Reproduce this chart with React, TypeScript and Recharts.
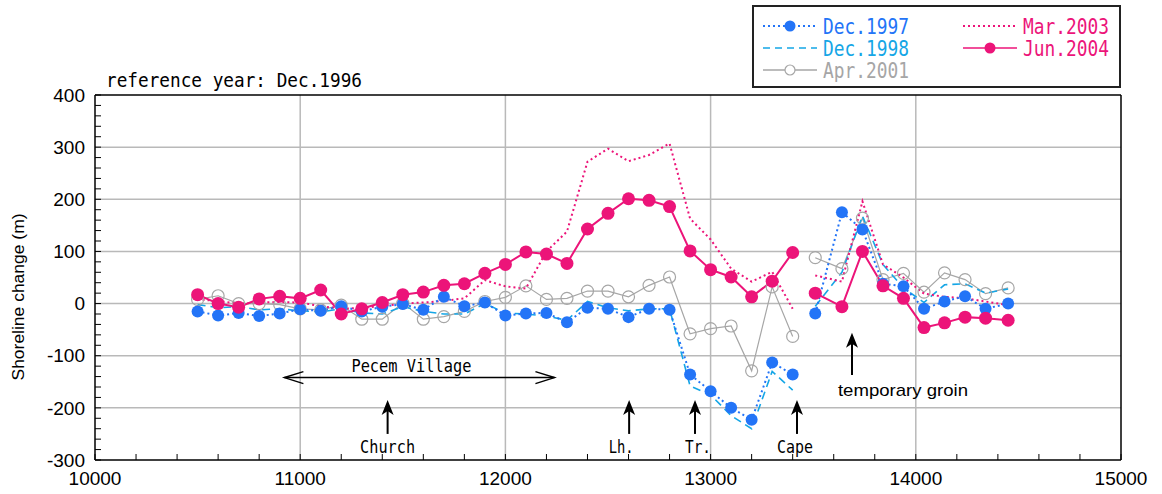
import React from 'react';
import { LineChart, Line, XAxis, YAxis, CartesianGrid, ReferenceLine } from 'recharts';

// distance along the coast (m): west block every 100 m, east block past the gap
const xWest = [
  10500, 10600, 10700, 10800, 10900, 11000, 11100, 11200, 11300, 11400,
  11500, 11600, 11700, 11800, 11900, 12000, 12100, 12200, 12300, 12400,
  12500, 12600, 12700, 12800, 12900, 13000, 13100, 13200, 13300, 13400,
];
const xEast = [13510, 13640, 13740, 13840, 13940, 14040, 14140, 14240, 14340, 14450];
const xGap = 13450;

// shoreline change (m) relative to Dec.1996
const dec1997West = [-15, -23, -18, -24, -19, -11, -14, -5, -15, -6, -1, -12, 13, -5, 2, -23, -19, -18, -36, -8, -10, -26, -10, -12, -136, -168, -200, -223, -113, -136];
const dec1997East = [-19, 175, 142, 38, 33, -10, 4, 14, -10, 0];

const dec1998West = [-2, -8, -6, -12, -10, -14, -16, -10, -18, -20, -6, -15, -20, -20, 0, -18, -20, -24, -32, 4, -8, -14, -10, -10, -158, -175, -215, -240, -130, -166];
const dec1998East = [-5, 60, 168, 75, 30, 2, 36, 38, 20, 28];

const apr2001West = [8, 15, 0, 0, -2, -10, -12, -3, -30, -30, 1, -30, -25, -15, 4, 12, 34, 8, 10, 24, 24, 13, 35, 51, -58, -48, -43, -129, 32, -63];
const apr2001East = [88, 67, 164, 46, 58, 22, 59, 46, 19, 30];

const mar2003West = [8, 5, 0, 2, 3, 2, -5, -10, -8, -5, 0, 2, 5, 10, 45, 33, 29, 100, 138, 272, 297, 273, 285, 307, 163, 123, 67, 42, 61, -10];
const mar2003East = [54, 42, 196, 75, 50, 19, 13, 10, 4, -3];

const jun2004West = [17, 0, -7, 9, 14, 10, 26, -20, -10, 2, 17, 22, 35, 38, 58, 75, 99, 95, 77, 143, 173, 201, 198, 186, 101, 65, 51, 13, 43, 98];
const jun2004East = [20, -6, 100, 34, 10, -46, -37, -26, -28, -32];

const xMajor = [10000, 11000, 12000, 13000, 14000, 15000];
const yMajor = [-300, -200, -100, 0, 100, 200, 300, 400];
const xGrid = [11000, 12000, 13000, 14000];
const yGrid = [-200, -100, 0, 100, 200, 300];
const xMinor = Array.from({ length: 26 }, (_, i) => 10000 + i * 200);
const yMinor = Array.from({ length: 36 }, (_, i) => -300 + i * 20);

// annotations (data units)
const landmarkNames = ['Church', 'Lh.', 'Tr.', 'Cape'];
const landmarkX = [11426, 12603, 12924, 13421];
const villageSpan = [10923, 12239];

const build = (west: number[], east: number[]) => [
  ...xWest.map((x, i) => ({ x, v: west[i] })),
  { x: xGap, v: null },
  ...xEast.map((x, i) => ({ x, v: east[i] })),
];

const BLUE = '#2374f7';
const CYAN = '#15a6e6';
const GRAY = '#a6a6a6';
const PINK = '#ec1479';
const MONO = '"DejaVu Sans Mono", monospace';
const SANS = '"Liberation Sans", Arial, sans-serif';

const labelDx: Record<string, number> = { Church: 0, 'Lh.': -8, 'Tr.': 3, Cape: -2 };
const labelW: Record<string, number> = { Church: 55, 'Lh.': 25, 'Tr.': 26, Cape: 36 };

const upArrow = (label: string) => (p: any) => {
  const { x1, y1, x2, y2 } = p;
  return (
    <g>
      <line x1={x1} y1={y1} x2={x2} y2={y2 + 10} stroke="#000" strokeWidth={2} />
      <polygon points={`${x2},${y2} ${x2 - 6},${y2 + 15} ${x2},${y2 + 11} ${x2 + 6},${y2 + 15}`} fill="#000" />
      <text x={x1 + labelDx[label]} y={y1 + 19} textAnchor="middle" fontFamily={MONO} fontSize={18}
        textLength={labelW[label]} lengthAdjust="spacingAndGlyphs" fill="#000">{label}</text>
    </g>
  );
};

const groinArrow = (p: any) => {
  const { x1, y1, x2, y2 } = p;
  return (
    <g>
      <line x1={x1} y1={y1} x2={x2} y2={y2 + 10} stroke="#000" strokeWidth={2} />
      <polygon points={`${x2},${y2} ${x2 - 6},${y2 + 15} ${x2},${y2 + 11} ${x2 + 6},${y2 + 15}`} fill="#000" />
      <text x={x1 - 14} y={y1 + 21} fontFamily={SANS} fontSize={17} textLength={130}
        lengthAdjust="spacingAndGlyphs" fill="#000">temporary groin</text>
    </g>
  );
};

const villageArrow = (p: any) => {
  const { x1, y1, x2 } = p;
  const mid = (x1 + x2) / 2;
  return (
    <g fill="none" stroke="#000" strokeWidth={1.5}>
      <line x1={x1} y1={y1} x2={x2} y2={y1} />
      <polyline points={`${x1 + 19},${y1 - 6} ${x1},${y1} ${x1 + 19},${y1 + 6}`} />
      <polyline points={`${x2 - 19},${y1 - 6} ${x2},${y1} ${x2 - 19},${y1 + 6}`} />
      <text x={mid - 8} y={y1 - 6} textAnchor="middle" fontFamily={MONO} fontSize={18} stroke="none"
        fill="#000" textLength={120} lengthAdjust="spacingAndGlyphs">Pecem Village</text>
    </g>
  );
};

const legendRows = [
  { col: 0, row: 0, name: 'Dec.1997', color: BLUE, dash: '2 3', dot: 'fill' },
  { col: 0, row: 1, name: 'Dec.1998', color: CYAN, dash: '7 5', dot: 'none' },
  { col: 0, row: 2, name: 'Apr.2001', color: GRAY, dash: '', dot: 'open' },
  { col: 1, row: 0, name: 'Mar.2003', color: PINK, dash: '2 3', dot: 'none' },
  { col: 1, row: 1, name: 'Jun.2004', color: PINK, dash: '', dot: 'fill' },
];

const Overlay = () => (
  <svg width={1162} height={494} style={{ position: 'absolute', left: 0, top: 0, pointerEvents: 'none' }}>
    <text x={106} y={87} fontFamily={MONO} fontSize={19} textLength={256} lengthAdjust="spacingAndGlyphs"
      fill="#000">reference year: Dec.1996</text>
    <text transform="translate(24,297) rotate(-90)" textAnchor="middle" fontFamily={SANS} fontSize={16}
      textLength={167} lengthAdjust="spacingAndGlyphs" fill="#000">Shoreline change (m)</text>
    <rect x={753} y={6} width={367} height={81} fill="#fff" stroke="#222" strokeWidth={2} />
    {legendRows.map((r) => {
      const lx = r.col === 0 ? 763 : 963;
      const cy = 26 + r.row * 22;
      return (
        <g key={r.name}>
          <line x1={lx} y1={cy} x2={lx + 54} y2={cy} stroke={r.color}
            strokeWidth={r.dash === '2 3' ? 2 : 1.5} strokeDasharray={r.dash || undefined} />
          {r.dot === 'fill' && <circle cx={lx + 27} cy={cy} r={5.5} fill={r.color} />}
          {r.dot === 'open' && <circle cx={lx + 27} cy={cy} r={5} fill="#fff" stroke={r.color} strokeWidth={1.2} />}
          <text x={lx + 60} y={cy + 8} fontFamily={MONO} fontSize={21} textLength={86}
            lengthAdjust="spacingAndGlyphs" fill={r.color}>{r.name}</text>
        </g>
      );
    })}
  </svg>
);

const frame = { stroke: '#000', strokeWidth: 1.5 };
const tickStyle = { fontSize: 19, fill: '#000', fontFamily: SANS };
const blank = () => '';

export default function App() {
  return (
    <div style={{ position: 'absolute', left: 0, top: 0, width: 1162, height: 494, background: '#fff' }}>
      <LineChart width={1162} height={494} margin={{ top: 94, right: 40, bottom: 4, left: 15 }}>
        <CartesianGrid horizontalValues={yGrid} verticalValues={xGrid} stroke="#b9b9b9" strokeWidth={1.5} />
        <XAxis dataKey="x" type="number" domain={[10000, 15000]} ticks={xMinor} interval={0} height={30}
          tickSize={-6} tickMargin={18} axisLine={frame} tickLine={{ stroke: '#000' }} tick={tickStyle}
          tickFormatter={(v: number) => (xMajor.includes(v) ? String(v) : '')} />
        <XAxis xAxisId="top" orientation="top" dataKey="x" type="number" domain={[10000, 15000]} ticks={xMinor}
          interval={0} height={1} tickSize={-6} axisLine={frame} tickLine={{ stroke: '#000' }} tickFormatter={blank} />
        <YAxis type="number" domain={[-300, 400]} ticks={yMinor} interval={0} width={80} tickSize={-6}
          tickMargin={16} axisLine={frame} tickLine={{ stroke: '#000' }} tick={tickStyle}
          tickFormatter={(v: number) => (yMajor.includes(v) ? String(v) : '')} />
        <YAxis yAxisId="right" orientation="right" type="number" domain={[-300, 400]} ticks={yMinor} interval={0}
          width={1} tickSize={-6} axisLine={frame} tickLine={{ stroke: '#000' }} tickFormatter={blank} />

        <Line data={build(apr2001West, apr2001East)} dataKey="v" stroke={GRAY} strokeWidth={1.2}
          dot={{ r: 6, fill: 'none', stroke: GRAY, strokeWidth: 1.2 }} activeDot={false} isAnimationActive={false} />
        <Line data={build(dec1998West, dec1998East)} dataKey="v" stroke={CYAN} strokeWidth={1.6}
          strokeDasharray="8 5" dot={false} activeDot={false} isAnimationActive={false} />
        <Line data={build(mar2003West, mar2003East)} dataKey="v" stroke={PINK} strokeWidth={2}
          strokeDasharray="2 3" dot={false} activeDot={false} isAnimationActive={false} />
        <Line data={build(dec1997West, dec1997East)} dataKey="v" stroke={BLUE} strokeWidth={2}
          strokeDasharray="2 3" dot={{ r: 6, fill: BLUE, stroke: 'none' }} activeDot={false} isAnimationActive={false} />
        <Line data={build(jun2004West, jun2004East)} dataKey="v" stroke={PINK} strokeWidth={2}
          dot={{ r: 6.5, fill: PINK, stroke: 'none' }} activeDot={false} isAnimationActive={false} />

        <ReferenceLine segment={[{ x: villageSpan[0], y: -142 }, { x: villageSpan[1], y: -142 }]} shape={villageArrow} />
        {landmarkNames.map((name, i) => (
          <ReferenceLine key={name} segment={[{ x: landmarkX[i], y: -250 }, { x: landmarkX[i], y: -185 }]}
            shape={upArrow(name)} />
        ))}
        <ReferenceLine segment={[{ x: 13689, y: -137 }, { x: 13689, y: -56 }]} shape={groinArrow} />
      </LineChart>
      <Overlay />
    </div>
  );
}
